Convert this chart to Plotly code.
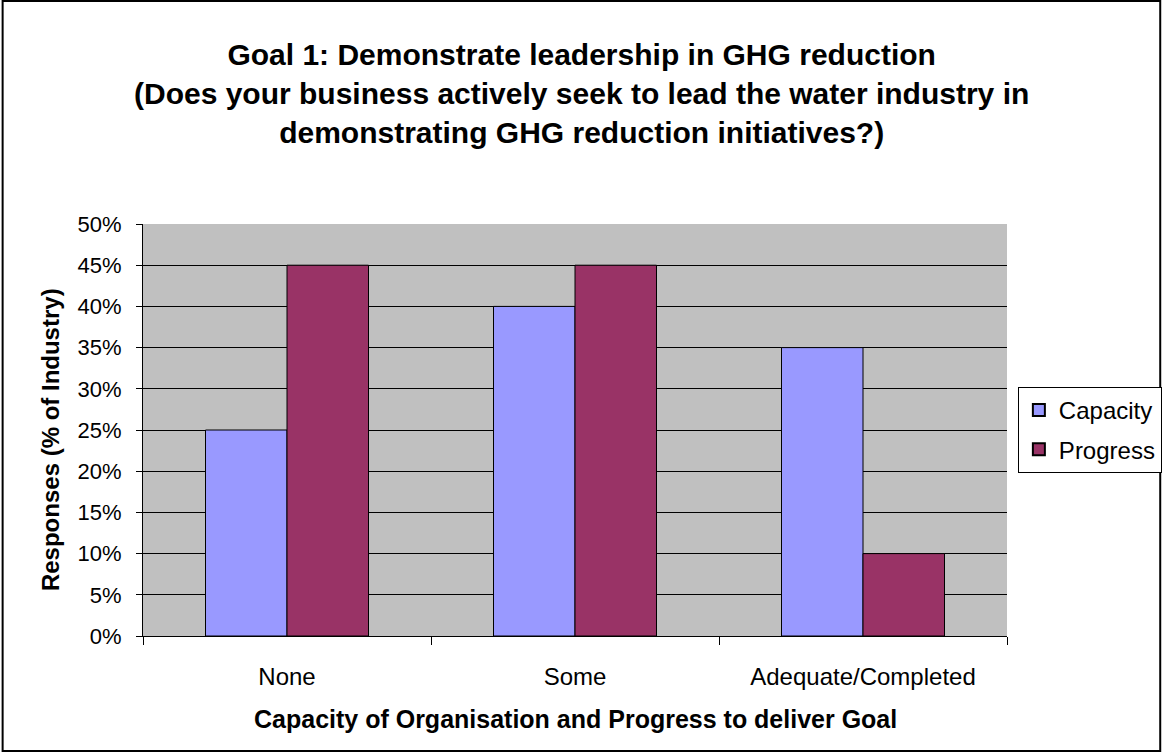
import plotly.graph_objects as go

categories = ["None", "Some", "Adequate/Completed"]
capacity = [0.25, 0.40, 0.35]
progress = [0.45, 0.45, 0.10]
series_names = ["Capacity", "Progress"]
y_ticks = [0, 0.05, 0.10, 0.15, 0.20, 0.25, 0.30, 0.35, 0.40, 0.45, 0.50]
title_lines = [
    "Goal 1: Demonstrate leadership in GHG reduction",
    "(Does your business actively seek to lead the water industry in",
    "demonstrating GHG reduction initiatives?)",
]
x_title = "Capacity of Organisation and Progress to deliver Goal"
y_title = "Responses (% of Industry)"

W, H = 1174, 753
L, R, T, B = 143, 1017, 224, 636
PW, PH = R - L, B - T

def px(x):
    return (x - L) / PW

def py(y):
    return (B - y) / PH

FONT = "Arial, 'Liberation Sans', sans-serif"

fig = go.Figure()
fig.add_trace(go.Bar(x=categories, y=capacity, name=series_names[0], legendgroup="g1",
                     marker=dict(color="#9999FF", line=dict(color="black", width=1))))
fig.add_trace(go.Bar(x=categories, y=progress, name=series_names[1], legendgroup="g2",
                     marker=dict(color="#993366", line=dict(color="black", width=1))))

fig.update_layout(
    width=W, height=H,
    margin=dict(l=L, r=W - R, t=T, b=H - B, pad=0),
    paper_bgcolor="white",
    plot_bgcolor="#C0C0C0",
    font=dict(family=FONT, color="black", size=22),
    barmode="group",
    bargap=0.434,
    bargroupgap=0,
    legend=dict(
        x=px(1028), xanchor="left", y=py(387), yanchor="top",
        bgcolor="white", bordercolor="black", borderwidth=1,
        font=dict(family=FONT, size=24, color="black"),
        tracegroupgap=5, itemsizing="constant",
    ),
    showlegend=True,
)

fig.update_xaxes(
    type="category",
    showline=True, linecolor="black", linewidth=1,
    ticks="outside", tickson="boundaries", ticklen=8, tickcolor="black", tickwidth=1,
    ticklabelstandoff=19,
    showgrid=False, zeroline=False,
    tickfont=dict(family=FONT, size=24, color="black"),
)
fig.update_yaxes(
    range=[0, 0.5],
    tickvals=y_ticks, tickformat=".0%",
    showline=True, linecolor="black", linewidth=1,
    ticks="outside", ticklen=6, tickcolor="black", tickwidth=1,
    ticklabelstandoff=10,
    showgrid=True, gridcolor="black", gridwidth=1,
    zeroline=False,
    tickfont=dict(family=FONT, size=22, color="black"),
)

fig.add_annotation(
    text="<b>" + "<br>".join(title_lines) + "</b>",
    xref="paper", yref="paper", x=px(W / 2), y=py(93),
    xanchor="center", yanchor="middle", showarrow=False, align="center",
    font=dict(family=FONT, size=30, color="black"),
)
fig.add_annotation(
    text="<b>" + x_title + "</b>",
    xref="paper", yref="paper", x=px(580), y=py(719),
    xanchor="center", yanchor="middle", showarrow=False,
    font=dict(family=FONT, size=25, color="black"),
)
fig.add_annotation(
    text="<b>" + y_title + "</b>",
    xref="paper", yref="paper", x=px(49), y=py(440),
    xanchor="center", yanchor="middle", showarrow=False, textangle=-90,
    font=dict(family=FONT, size=24, color="black"),
)

fig.add_shape(
    type="rect", xref="paper", yref="paper",
    x0=px(1), x1=px(1172), y0=py(751), y1=py(1),
    line=dict(color="black", width=2), fillcolor="rgba(0,0,0,0)", layer="above",
)

fig.write_html(
    "out.html",
    config={"displayModeBar": False},
    post_script="document.body.style.margin='0px';document.body.style.overflow='hidden';",
)
